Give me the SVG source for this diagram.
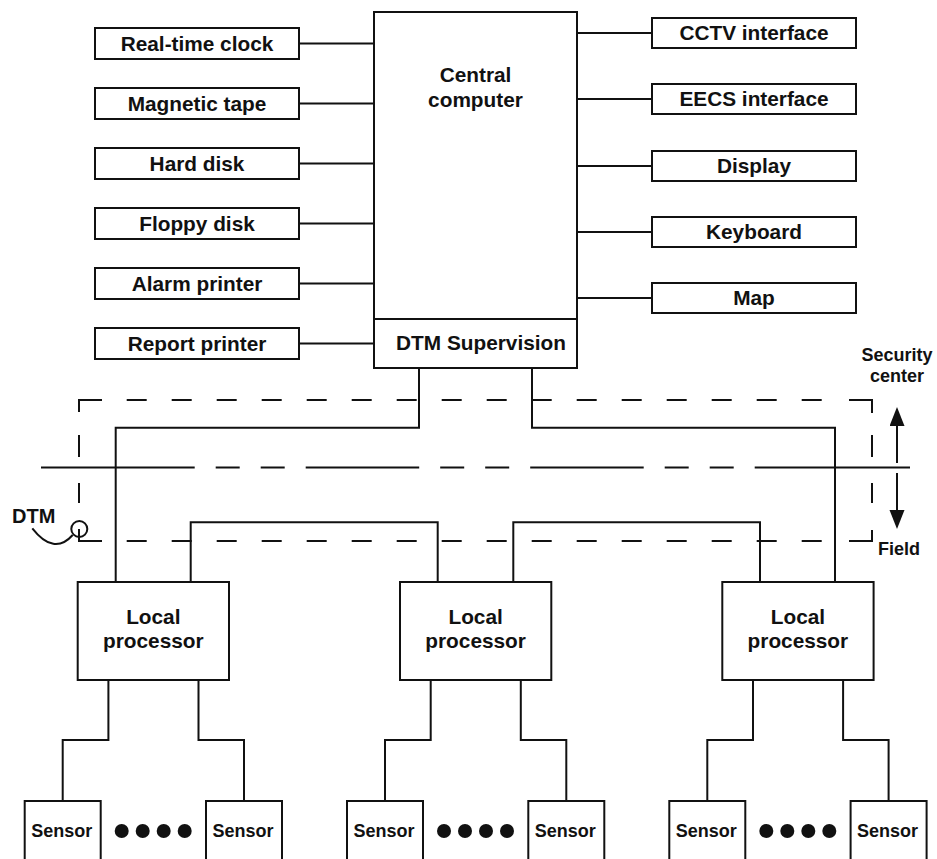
<svg xmlns="http://www.w3.org/2000/svg" width="937" height="859" viewBox="0 0 937 859">
<style>
.box{fill:#fff;stroke:#111;stroke-width:2}
.ln{fill:none;stroke:#111;stroke-width:2}
.dash{fill:none;stroke:#111;stroke-width:2;stroke-dasharray:20 25}
.t{font-family:"Liberation Sans",Arial,sans-serif;font-weight:bold;font-size:20.8px;fill:#111;text-anchor:middle}
.ts{font-size:18px}
.dot{fill:#111}
</style>
<defs>
<marker id="ah" markerUnits="userSpaceOnUse" markerWidth="20" markerHeight="16" refX="0" refY="7.5" orient="auto"><path d="M0,0 L19,7.5 L0,15 z" fill="#111"/></marker>
</defs>
<rect width="937" height="859" fill="#fff"/>

<g id="connectors" class="ln">
<path d="M299,43.5H374M299,103.5H374M299,163.5H374M299,223.5H374M299,283.5H374M299,343.5H374"/>
<path d="M577,33H652M577,99H652M577,166H652M577,232H652M577,298H652"/>
<path d="M419,368V427.7H115.7V582"/>
<path d="M532,368V427.7H835V582"/>
<path d="M190.7,582V522.3H437.7V582"/>
<path d="M513.3,582V522.3H760V582"/>
<path d="M108.4,680V740H62.7V801M198.5,680V740H244V801"/>
<path d="M430.7,680V740H385V801M520.8,680V740H566.3V801"/>
<path d="M753,680V740H707.3V801M843.1,680V740H888.6V801"/>
</g>

<g id="boundary">
<path class="ln" d="M79,412V400H102M849,400H872V413M872,530V541H849M102,541H79V529"/>
<path class="dash" d="M126.7,400H822M126.7,541H822"/>
<path class="ln" d="M79,435V457M79,483V503M872,435V457M872,483V503"/>
<path class="ln" style="stroke-dasharray:153.7 21 24 21 24 21 113.5 21 24 21 24 21 113.5 21 24 21 24 21 160" d="M41,467.5H910"/>
<line class="ln" x1="897" y1="463" x2="897" y2="426" marker-end="url(#ah)"/>
<line class="ln" x1="897" y1="473" x2="897" y2="510" marker-end="url(#ah)"/>
<text class="t ts" x="897" y="360.7">Security</text>
<text class="t ts" x="897" y="381.7">center</text>
<text class="t ts" x="899" y="555">Field</text>
</g>

<g id="dtm">
<circle class="ln" cx="79.3" cy="529" r="8"/>
<path class="ln" d="M32.3,528.3Q54,556 72.7,535"/>
<text class="t" style="text-anchor:start;font-size:20px" x="12" y="523">DTM</text>
</g>

<g id="central-computer">
<rect class="box" x="374" y="12" width="203" height="356"/>
<line class="ln" x1="374" y1="319" x2="577" y2="319"/>
<text class="t" x="475.5" y="82">Central</text>
<text class="t" x="475.5" y="107">computer</text>
<text class="t" x="481" y="349.5">DTM Supervision</text>
</g>

<g id="real-time-clock"><rect class="box" x="95" y="28" width="204" height="31"/><text class="t" x="197" y="50.5">Real-time clock</text></g>
<g id="magnetic-tape"><rect class="box" x="95" y="88" width="204" height="31"/><text class="t" x="197" y="110.5">Magnetic tape</text></g>
<g id="hard-disk"><rect class="box" x="95" y="148" width="204" height="31"/><text class="t" x="197" y="170.5">Hard disk</text></g>
<g id="floppy-disk"><rect class="box" x="95" y="208" width="204" height="31"/><text class="t" x="197" y="230.5">Floppy disk</text></g>
<g id="alarm-printer"><rect class="box" x="95" y="268" width="204" height="31"/><text class="t" x="197" y="290.5">Alarm printer</text></g>
<g id="report-printer"><rect class="box" x="95" y="328" width="204" height="31"/><text class="t" x="197" y="350.5">Report printer</text></g>

<g id="cctv-interface"><rect class="box" x="652" y="18" width="204" height="30"/><text class="t" x="754" y="40">CCTV interface</text></g>
<g id="eecs-interface"><rect class="box" x="652" y="84" width="204" height="30"/><text class="t" x="754" y="106">EECS interface</text></g>
<g id="display"><rect class="box" x="652" y="151" width="204" height="30"/><text class="t" x="754" y="173">Display</text></g>
<g id="keyboard"><rect class="box" x="652" y="217" width="204" height="30"/><text class="t" x="754" y="239">Keyboard</text></g>
<g id="map"><rect class="box" x="652" y="283" width="204" height="30"/><text class="t" x="754" y="305">Map</text></g>

<g id="local-processor-1"><rect class="box" x="77.7" y="582" width="151.3" height="98"/><text class="t" x="153.3" y="623.5">Local</text><text class="t" x="153.3" y="647.5">processor</text></g>
<g id="local-processor-2"><rect class="box" x="400" y="582" width="151.3" height="98"/><text class="t" x="475.6" y="623.5">Local</text><text class="t" x="475.6" y="647.5">processor</text></g>
<g id="local-processor-3"><rect class="box" x="722.3" y="582" width="151.3" height="98"/><text class="t" x="797.9" y="623.5">Local</text><text class="t" x="797.9" y="647.5">processor</text></g>

<g id="sensor-1a"><rect class="box" x="24.7" y="801" width="76" height="70"/><text class="t ts" x="61.7" y="837">Sensor</text></g>
<g id="sensor-1b"><rect class="box" x="206" y="801" width="76" height="70"/><text class="t ts" x="243" y="837">Sensor</text></g>
<g id="sensor-2a"><rect class="box" x="347" y="801" width="76" height="70"/><text class="t ts" x="384" y="837">Sensor</text></g>
<g id="sensor-2b"><rect class="box" x="528.3" y="801" width="76" height="70"/><text class="t ts" x="565.3" y="837">Sensor</text></g>
<g id="sensor-3a"><rect class="box" x="669.3" y="801" width="76" height="70"/><text class="t ts" x="706.3" y="837">Sensor</text></g>
<g id="sensor-3b"><rect class="box" x="850.6" y="801" width="76" height="70"/><text class="t ts" x="887.6" y="837">Sensor</text></g>

<g id="dots-1" class="dot"><circle cx="121.7" cy="831" r="7"/><circle cx="142.7" cy="831" r="7"/><circle cx="163.7" cy="831" r="7"/><circle cx="184.7" cy="831" r="7"/></g>
<g id="dots-2" class="dot"><circle cx="444" cy="831" r="7"/><circle cx="465" cy="831" r="7"/><circle cx="486" cy="831" r="7"/><circle cx="507" cy="831" r="7"/></g>
<g id="dots-3" class="dot"><circle cx="766.3" cy="831" r="7"/><circle cx="787.3" cy="831" r="7"/><circle cx="808.3" cy="831" r="7"/><circle cx="829.3" cy="831" r="7"/></g>
</svg>
